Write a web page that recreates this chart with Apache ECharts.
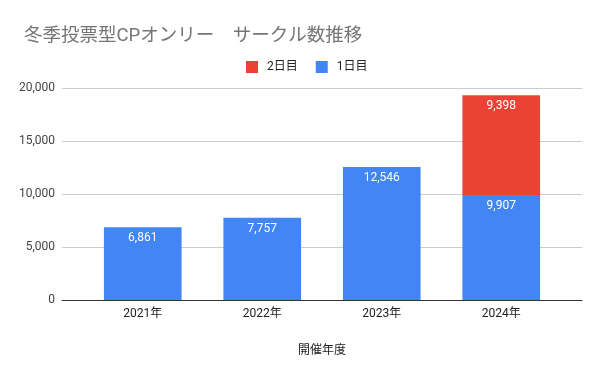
<!DOCTYPE html>
<html>
<head>
<meta charset="utf-8">
<script src="https://cdn.jsdelivr.net/npm/echarts@6/dist/echarts.min.js"></script>
<style>html,body{margin:0;padding:0;background:#fff}#c{width:600px;height:371px}</style>
</head>
<body>
<div id="c"></div>
<script>
const categories = ['2021年', '2022年', '2023年', '2024年'];
const day1 = [6861, 7757, 12546, 9907];
const day2 = [null, null, null, 9398];
const yTicks = [0, 5000, 10000, 15000, 20000];

const FONT = "Roboto, 'Noto Sans CJK JP', sans-serif";
const fmt = v => Number(v).toLocaleString('en-US');

const chart = echarts.init(document.getElementById('c'), null, {renderer: 'canvas'});
chart.setOption({
  animation: false,
  backgroundColor: '#fff',
  textStyle: {fontFamily: FONT},
  title: {
    text: '冬季投票型CPオンリー　サークル数推移',
    left: 19, top: 22,
    textStyle: {color: '#757575', fontSize: 18.5, fontWeight: 'normal', fontFamily: FONT}
  },
  legend: {
    data: ['2日目', '1日目'],
    left: 241, top: 56,
    itemWidth: 12, itemHeight: 12, itemGap: 18,
    icon: 'rect',
    textStyle: {color: '#222', fontSize: 12, fontFamily: FONT, padding: [0, 0, 0, 4]}
  },
  grid: [
    {left: 62, right: 18, top: 88, bottom: 71},
    {left: 83, right: 39, top: 88, bottom: 71}
  ],
  xAxis: [
    {
      gridIndex: 0, type: 'category', data: categories,
      axisLine: {lineStyle: {color: '#333', width: 1}},
      axisTick: {show: false}, axisLabel: {show: false},
      name: '開催年度', nameLocation: 'middle', nameGap: 45,
      nameTextStyle: {color: '#222', fontSize: 12, fontFamily: FONT}
    },
    {
      gridIndex: 1, type: 'category', data: categories,
      axisLine: {show: false}, axisTick: {show: false},
      axisLabel: {color: '#222', fontSize: 12, margin: 8, fontFamily: FONT}
    }
  ],
  yAxis: [
    {
      gridIndex: 0, type: 'value',
      min: yTicks[0], max: yTicks[yTicks.length - 1], interval: yTicks[1] - yTicks[0],
      axisLine: {show: false}, axisTick: {show: false},
      axisLabel: {color: '#444', fontSize: 12, margin: 7, formatter: fmt, fontFamily: FONT},
      splitLine: {lineStyle: {color: '#ccc', width: 1}}
    },
    {
      gridIndex: 1, type: 'value',
      min: yTicks[0], max: yTicks[yTicks.length - 1], interval: yTicks[1] - yTicks[0],
      show: false, splitLine: {show: false}
    }
  ],
  series: [
    {
      name: '1日目', type: 'bar', stack: 'total', xAxisIndex: 1, yAxisIndex: 1,
      data: day1, barWidth: '65%',
      itemStyle: {color: '#4285F4'},
      label: {show: true, position: 'insideTop', distance: 5, color: '#fff', fontSize: 12,
        fontFamily: FONT, formatter: p => fmt(p.value)}
    },
    {
      name: '2日目', type: 'bar', stack: 'total', xAxisIndex: 1, yAxisIndex: 1,
      data: day2, barWidth: '65%',
      itemStyle: {color: '#EA4335'},
      label: {show: true, position: 'insideTop', distance: 5, color: '#fff', fontSize: 12,
        fontFamily: FONT, formatter: p => (p.value == null ? '' : fmt(p.value))}
    }
  ]
});
</script>
</body>
</html>
